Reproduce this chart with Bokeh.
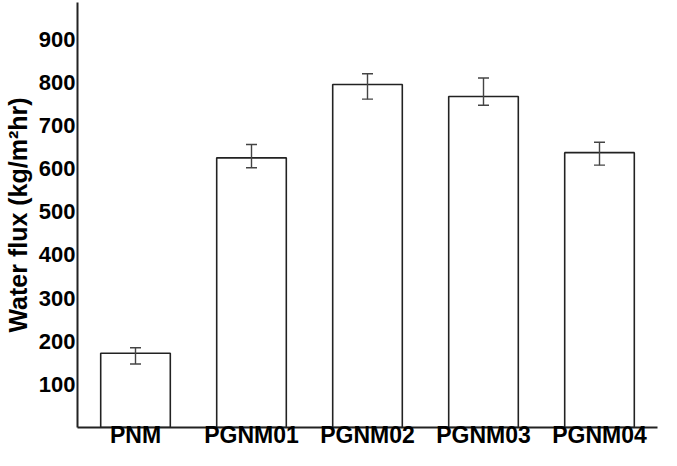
from bokeh.plotting import figure
from bokeh.models import ColumnDataSource, Whisker, TeeHead, FixedTicker, Range1d
from bokeh.embed import file_html
from bokeh.resources import INLINE

categories = ["PNM", "PGNM01", "PGNM02", "PGNM03", "PGNM04"]
flux = [172, 625, 795, 767, 637]
err_upper = [185, 656, 820, 810, 661]
err_lower = [147, 602, 761, 747, 608]
y_ticks = [100, 200, 300, 400, 500, 600, 700, 800, 900]

src = ColumnDataSource(dict(cat=categories, flux=flux, upper=err_upper, lower=err_lower))

p = figure(x_range=categories, y_range=Range1d(0, 985), width=661, height=450,
           output_backend="svg", toolbar_location=None,
           min_border_left=0, min_border_right=4, min_border_top=2, min_border_bottom=0)

p.vbar(x="cat", top="flux", width=0.6, source=src, fill_color="white",
       line_color="#222222", line_width=1.6)

w = Whisker(base="cat", upper="upper", lower="lower", source=src, level="overlay",
            line_color="#444444", line_width=1.4,
            upper_head=TeeHead(size=11, line_color="#444444", line_width=1.4),
            lower_head=TeeHead(size=11, line_color="#444444", line_width=1.4))
p.add_layout(w)

p.outline_line_color = None
p.xgrid.grid_line_color = None
p.ygrid.grid_line_color = None

p.yaxis.ticker = FixedTicker(ticks=y_ticks)
for ax in (p.xaxis[0], p.yaxis[0]):
    ax.axis_line_color = "#222222"
    ax.axis_line_width = 2
    ax.major_tick_line_color = None
    ax.minor_tick_line_color = None
    ax.major_tick_out = 0
    ax.major_tick_in = 0
    ax.major_label_text_font = "Liberation Sans"
    ax.major_label_text_font_style = "bold"
    ax.major_label_text_color = "black"

p.yaxis.major_label_text_font_size = "22px"
p.yaxis.major_label_standoff = 2
p.xaxis.major_label_text_font_size = "23px"
p.xaxis.major_label_standoff = -6

p.yaxis.axis_label = "Water flux (kg/m²hr)"
p.yaxis.axis_label_text_font = "Liberation Sans"
p.yaxis.axis_label_text_font_style = "bold"
p.yaxis.axis_label_text_font_size = "25px"
p.yaxis.axis_label_text_color = "black"
p.yaxis.axis_label_standoff = 4

open("out.html", "w").write(file_html(p, INLINE))
